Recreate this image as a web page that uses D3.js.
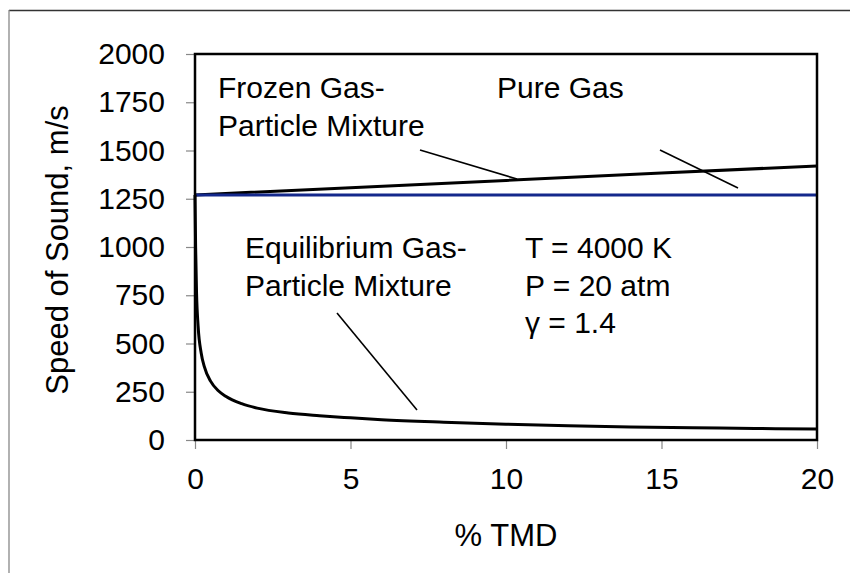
<!DOCTYPE html>
<html>
<head>
<meta charset="utf-8">
<script src="https://cdn.jsdelivr.net/npm/d3@7"></script>
<style>
    body { margin: 0; background: #fff; }
    svg { display: block; font-family: "Liberation Sans", Arial, sans-serif; }
    .axis path { display: none; }
    .axis line { stroke: #888; stroke-width: 1.2; }
    .axis text { fill: #000; font-size: 30px; }
    .note { font-size: 30px; fill: #000; }
    .title { font-size: 31px; fill: #000; }
</style>
</head>
<body>
<svg width="850" height="573"></svg>
<script>
// % TMD vs speed of sound (m/s)
const pure_gas = [[0, 1270], [20, 1270]]
const frozen_mix = [[0, 1270], [5, 1307], [10, 1345], [15, 1383], [20, 1420]]
const eq_tmd = [0, 0.02, 0.05, 0.1, 0.2, 0.3, 0.5, 0.75, 1, 1.5, 2, 3, 4, 5, 6, 8, 10, 12, 14, 16, 18, 20]
const eq_speed = [1270, 1000, 760, 590, 450, 380, 305, 255, 225, 188, 165, 140, 126, 115, 105, 92, 82, 74, 68, 64, 60, 57]

const x_ticks = [0, 5, 10, 15, 20]
const y_ticks = [0, 250, 500, 750, 1000, 1250, 1500, 1750, 2000]

const svg = d3.select("svg")
const plot = {left: 195, right: 817, top: 54, bottom: 440}

const x = d3.scaleLinear().domain([0, 20]).range([plot.left, plot.right])
const y = d3.scaleLinear().domain([0, 2000]).range([plot.bottom, plot.top])

// outer chart border (only top and left fall inside the picture)
svg.append("line").attr("x1", 9).attr("x2", 850).attr("y1", 10.5).attr("y2", 10.5)
    .attr("stroke", "#333").attr("stroke-width", 1.3)
svg.append("line").attr("x1", 9).attr("x2", 9).attr("y1", 10).attr("y2", 573)
    .attr("stroke", "#888").attr("stroke-width", 1.3)

svg.append("g")
    .attr("class", "axis")
    .attr("transform", `translate(${plot.left},0)`)
    .call(d3.axisLeft(y).tickValues(y_ticks).tickFormat(d3.format("d")).tickSize(9).tickPadding(21))

svg.append("g")
    .attr("class", "axis")
    .attr("transform", `translate(0,${plot.bottom})`)
    .call(d3.axisBottom(x).tickValues(x_ticks).tickFormat(d3.format("d")).tickSize(9).tickPadding(19))

const line = d3.line().x(d => x(d[0])).y(d => y(d[1]))

svg.append("path")
    .datum(frozen_mix)
    .attr("d", line)
    .attr("fill", "none").attr("stroke", "#000").attr("stroke-width", 3)

svg.append("path")
    .datum(pure_gas)
    .attr("d", line)
    .attr("fill", "none").attr("stroke", "#14288c").attr("stroke-width", 3)

svg.append("path")
    .datum(eq_tmd.map((t, i) => [t, eq_speed[i]]))
    .attr("d", line.curve(d3.curveMonotoneX))
    .attr("fill", "none").attr("stroke", "#000").attr("stroke-width", 3)

// plot frame
svg.append("rect")
    .attr("x", plot.left).attr("y", plot.top)
    .attr("width", plot.right - plot.left).attr("height", plot.bottom - plot.top)
    .attr("fill", "none").attr("stroke", "#000").attr("stroke-width", 2.5)

// leader lines from the labels
const leaders = [
    [[420, 150], [517, 179]],
    [[660, 150], [738, 188]],
    [[337, 313], [417, 410]]
]
svg.selectAll(".leader")
    .data(leaders)
    .enter()
    .append("line")
    .attr("x1", d => d[0][0]).attr("y1", d => d[0][1])
    .attr("x2", d => d[1][0]).attr("y2", d => d[1][1])
    .attr("stroke", "#000").attr("stroke-width", 1.6)

const notes = [
    ["Frozen Gas-", 218, 98],
    ["Particle Mixture", 218, 136],
    ["Pure Gas", 497, 98],
    ["Equilibrium Gas-", 245, 258],
    ["Particle Mixture", 245, 296],
    ["T = 4000 K", 525, 258],
    ["P = 20 atm", 525, 296],
    ["γ = 1.4", 525, 333]
]
svg.selectAll(".note")
    .data(notes)
    .enter()
    .append("text")
    .attr("class", "note")
    .attr("x", d => d[1]).attr("y", d => d[2])
    .text(d => d[0])

svg.append("text")
    .attr("class", "title")
    .attr("text-anchor", "middle")
    .attr("x", (plot.left + plot.right) / 2).attr("y", 546)
    .text("% TMD")

svg.append("text")
    .attr("class", "title")
    .attr("text-anchor", "middle")
    .attr("transform", `translate(68,250) rotate(-90)`)
    .text("Speed of Sound, m/s")
</script>
</body>
</html>
